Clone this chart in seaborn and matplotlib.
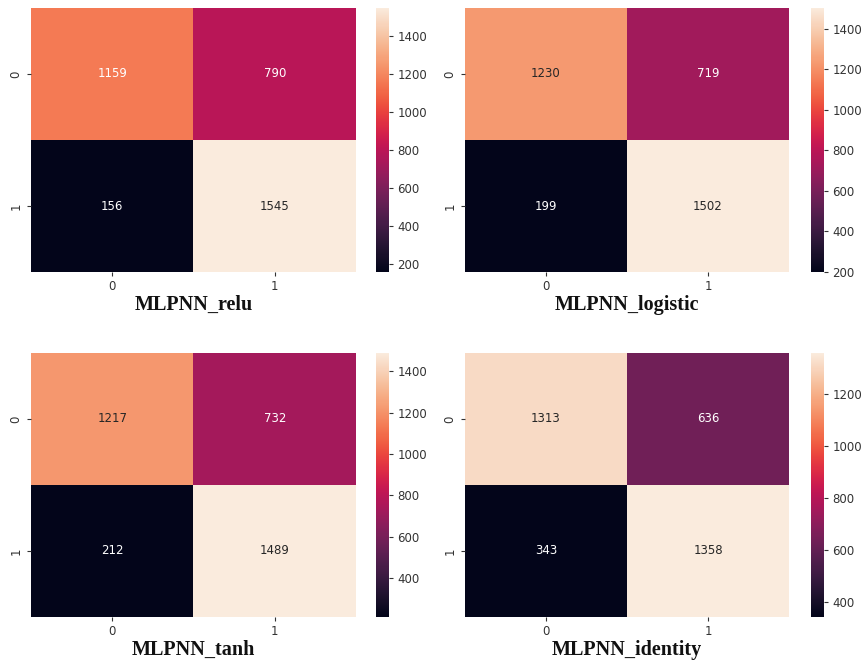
import matplotlib
matplotlib.use('Agg')
import matplotlib.pyplot as plt
import seaborn as sns
import numpy as np

MODELS = ['MLPNN_relu', 'MLPNN_logistic', 'MLPNN_tanh', 'MLPNN_identity']
# confusion matrices [[TN, FP], [FN, TP]]
RELU = [[1159, 790], [156, 1545]]
LOGISTIC = [[1230, 719], [199, 1502]]
TANH = [[1217, 732], [212, 1489]]
IDENTITY = [[1313, 636], [343, 1358]]
MATRICES = [RELU, LOGISTIC, TANH, IDENTITY]

W, H = 865, 670
fig = plt.figure(figsize=(W / 100, H / 100), dpi=100)


def px_axes(left, top, right, bottom):
    """add axes from pixel coords (origin top-left)"""
    return fig.add_axes([left / W, 1 - bottom / H, (right - left) / W, (bottom - top) / H])


# pixel boxes: heatmap x0, x1, colorbar x0, x1 / row y0, y1
COLS = [(31, 356, 376, 389), (465, 789, 811, 824)]
ROWS = [(8, 272), (353, 617)]
TICK_KW = dict(labelsize=8.5, length=2.8, pad=3.2, colors='#333333')

for i, (name, mat) in enumerate(zip(MODELS, MATRICES)):
    hx0, hx1, cx0, cx1 = COLS[i % 2]
    y0, y1 = ROWS[i // 2]
    ax = px_axes(hx0, y0, hx1, y1)
    cax = px_axes(cx0, y0, cx1, y1)
    sns.heatmap(np.array(mat), annot=True, fmt='d', ax=ax, cbar_ax=cax,
                annot_kws={'size': 8.5})
    ax.tick_params(**TICK_KW)
    cax.tick_params(**TICK_KW)
    ax.set_xlabel(name, fontsize=14.5, fontweight='bold', family='Liberation Serif',
                  labelpad=1, color='#111111')

fig.savefig('out.png', dpi=100)
